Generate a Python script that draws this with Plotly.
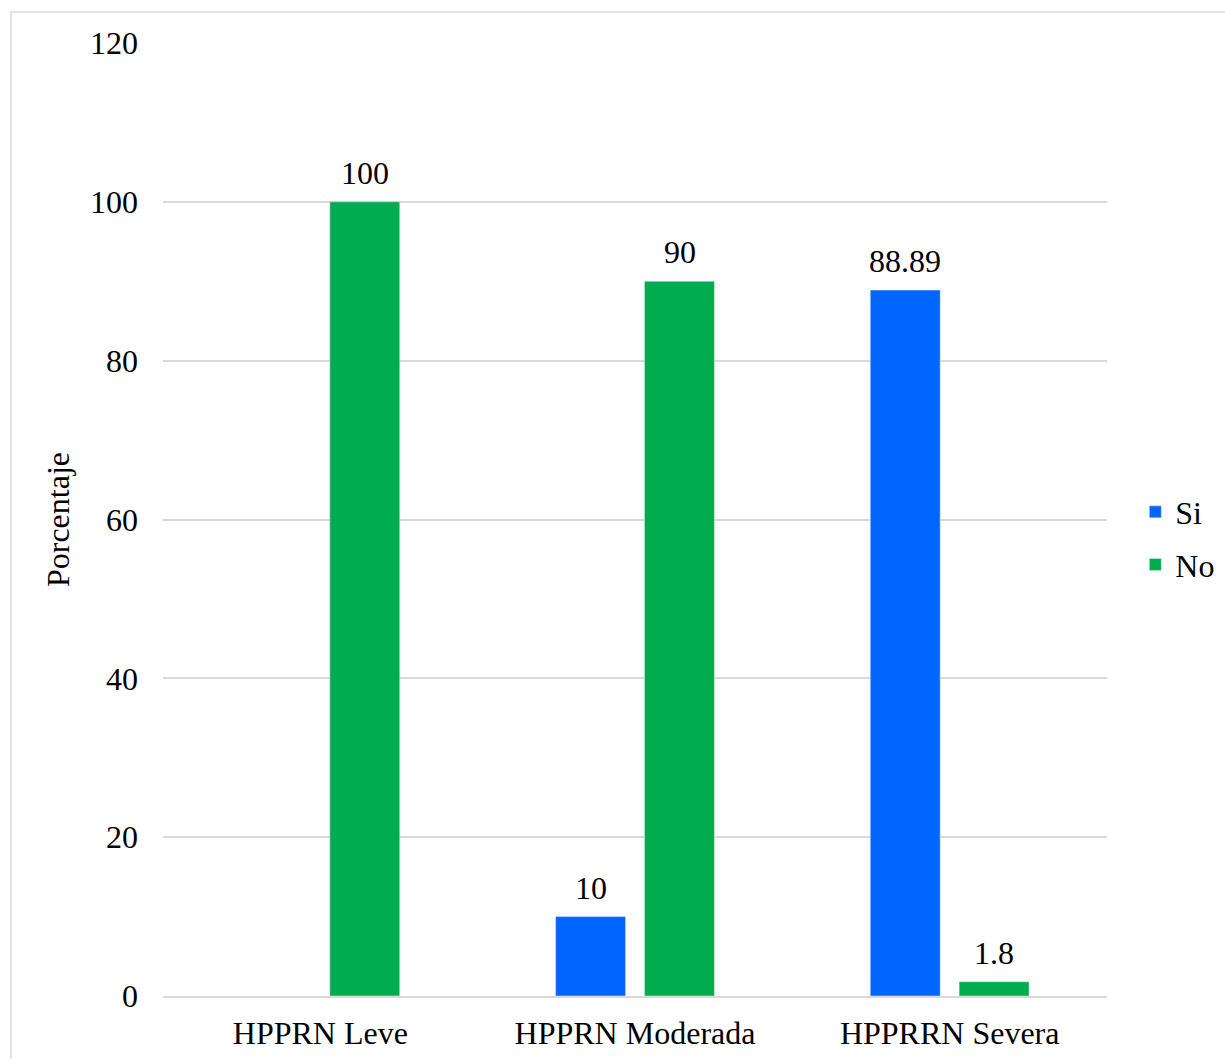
import plotly.graph_objects as go

categories = ["HPPRN Leve", "HPPRN Moderada", "HPPRRN Severa"]
si_values = [None, 10, 88.89]
no_values = [100, 90, 1.8]
si_labels = ["", "10", "88.89"]
no_labels = ["100", "90", "1.8"]
y_ticks = [0, 20, 40, 60, 80, 100, 120]

FONT = "Times New Roman"
FS = 32
W, H = 1225, 1059
ml, mr, mt, mb = 163, 118, 43, 63
pw, ph = W - ml - mr, H - mt - mb
BAR_OFFSET = 44.5  # px, half of a bar slot

fig = go.Figure()
fig.add_trace(go.Bar(name="Si", x=categories, y=si_values, marker_color="#0066FF",
                     legendgroup="si"))
fig.add_trace(go.Bar(name="No", x=categories, y=no_values, marker_color="#00AD4E",
                     legendgroup="no"))

annotations = []
for cat, v, lab in zip(categories, si_values, si_labels):
    if v is not None and lab:
        annotations.append(dict(x=cat, y=v, text=lab, showarrow=False, xshift=-BAR_OFFSET,
                                yanchor="bottom", yshift=9,
                                font=dict(family=FONT, size=FS, color="black")))
for cat, v, lab in zip(categories, no_values, no_labels):
    if v is not None and lab:
        annotations.append(dict(x=cat, y=v, text=lab, showarrow=False, xshift=BAR_OFFSET,
                                yanchor="bottom", yshift=9,
                                font=dict(family=FONT, size=FS, color="black")))

fig.update_layout(
    width=W, height=H,
    margin=dict(l=ml, r=mr, t=mt, b=mb, autoexpand=False),
    paper_bgcolor="white", plot_bgcolor="white",
    font=dict(family=FONT, size=FS, color="black"),
    barmode="group", bargap=0.435, bargroupgap=0.213,
    showlegend=True,
    legend=dict(x=1.030, y=0.48, xanchor="left", yanchor="middle",
                font=dict(family=FONT, size=FS), tracegroupgap=8,
                itemwidth=30),
    yaxis=dict(range=[0, 120], tickvals=y_ticks, showgrid=True, gridcolor="#D9D9D9",
               gridwidth=1.5, zeroline=False, showline=False, ticks="", ticklen=0,
               ticklabelstandoff=24,
               title=dict(text="Porcentaje", font=dict(family=FONT, size=FS), standoff=10),
               tickfont=dict(family=FONT, size=FS)),
    xaxis=dict(showline=True, linecolor="#D9D9D9", linewidth=1.5, ticks="",
               ticklabelstandoff=8,
               tickfont=dict(family=FONT, size=FS)),
    annotations=annotations,
    shapes=[dict(type="rect", xref="paper", yref="paper",
                 x0=(11 - ml) / pw, x1=(W + 20 - ml) / pw,
                 y0=-(H + 20 - mt - ph) / ph, y1=(H - 12 - mb) / ph,
                 line=dict(color="#D9D9D9", width=1.5), layer="below")],
)

fig.write_html("out.html")
